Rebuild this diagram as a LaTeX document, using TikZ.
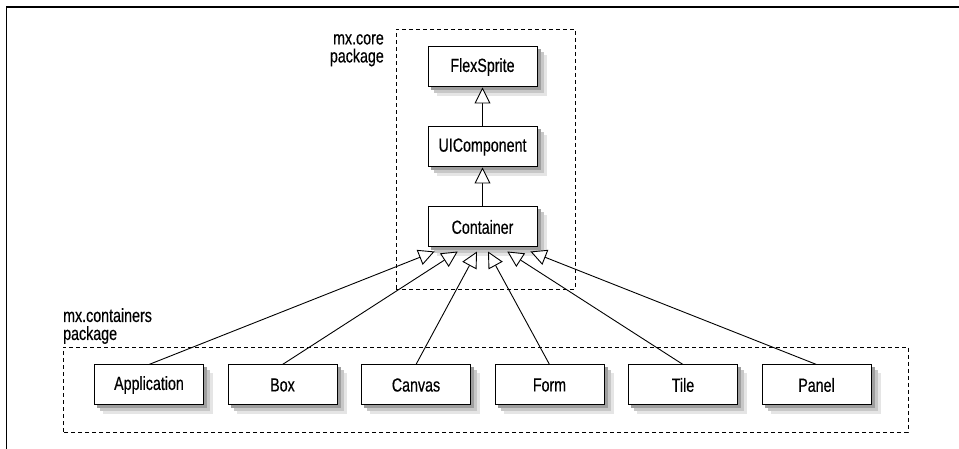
\documentclass[tikz,border=0pt]{standalone}
\usepackage{fontspec}
\setmainfont{Liberation Sans}[FakeStretch=0.75, FakeBold=0.4]
\usetikzlibrary{arrows.meta,calc,backgrounds}
\begin{document}
\begin{tikzpicture}[x=1pt, y=1pt,
    cls/.style={draw, line width=1pt, fill=white, minimum width=109pt, minimum height=40pt,
        inner sep=0pt, font=\fontsize{19}{18}\selectfont},
    pkg/.style={draw, line width=0.9pt, dash pattern=on 4pt off 3pt},
    inherit/.style={line width=0.9pt, -{Triangle[fill=white, length=16pt, width=16pt, line width=0.9pt]}},
    lbl/.style={font=\fontsize{19}{18}\selectfont, inner sep=0pt}]
    \useasboundingbox (0,0) rectangle (959,449);
    \draw [line width=1.8pt] (6,442) -- (959,442);
    \draw [line width=1pt] (6,442) -- (6,0);
    % packages
    \draw [pkg] (396,160) rectangle (575,420);
    \draw [pkg] (63,17) rectangle (908,102);
    \node [lbl, align=right, anchor=north east] (corelbl) at (384,415) {mx.core\\package};
    \node [lbl, align=left, anchor=north west] (contlbl) at (63,141) {mx.containers\\package};
    % classes
    \node [cls] (flex) at (482.5,382) {FlexSprite};
    \node [cls] (uic) at (482.5,302) {UIComponent};
    \node [cls] (cont) at (482.5,222) {Container};
    \node [cls] (app) at (149,64) {Application};
    \node [cls] (box) at (282.5,64) {Box};
    \node [cls] (canvas) at (416,64) {Canvas};
    \node [cls] (form) at (549.5,64) {Form};
    \node [cls] (tile) at (683,64) {Tile};
    \node [cls] (panel) at (816.5,64) {Panel};
    % shadows
    \begin{scope}[on background layer]
    \foreach \n in {flex,uic,cont,app,box,canvas,form,tile,panel} {
        \fill [black!10] ($(\n.south west)+(9,-9)$) rectangle ($(\n.north east)+(9,-9)$);
        \fill [black!22] ($(\n.south west)+(6,-6)$) rectangle ($(\n.north east)+(6,-6)$);
        \fill [black!38] ($(\n.south west)+(3,-3)$) rectangle ($(\n.north east)+(3,-3)$);
    }
    \end{scope}
    % inheritance
    \draw [inherit] (uic.north) -- (flex.south);
    \draw [inherit] (cont.north) -- (uic.south);
    \draw [inherit] (app.north) -- ($(cont.south west)!0.064!(cont.south east)+(0,-4)$);
    \draw [inherit] (box.north) -- ($(cont.south west)!0.275!(cont.south east)+(0,-4)$);
    \draw [inherit] (canvas.north) -- ($(cont.south west)!0.45!(cont.south east)+(0,-4)$);
    \draw [inherit] (form.north) -- ($(cont.south west)!0.55!(cont.south east)+(0,-4)$);
    \draw [inherit] (tile.north) -- ($(cont.south west)!0.725!(cont.south east)+(0,-4)$);
    \draw [inherit] (panel.north) -- ($(cont.south west)!0.936!(cont.south east)+(0,-4)$);
\end{tikzpicture}
\end{document}
